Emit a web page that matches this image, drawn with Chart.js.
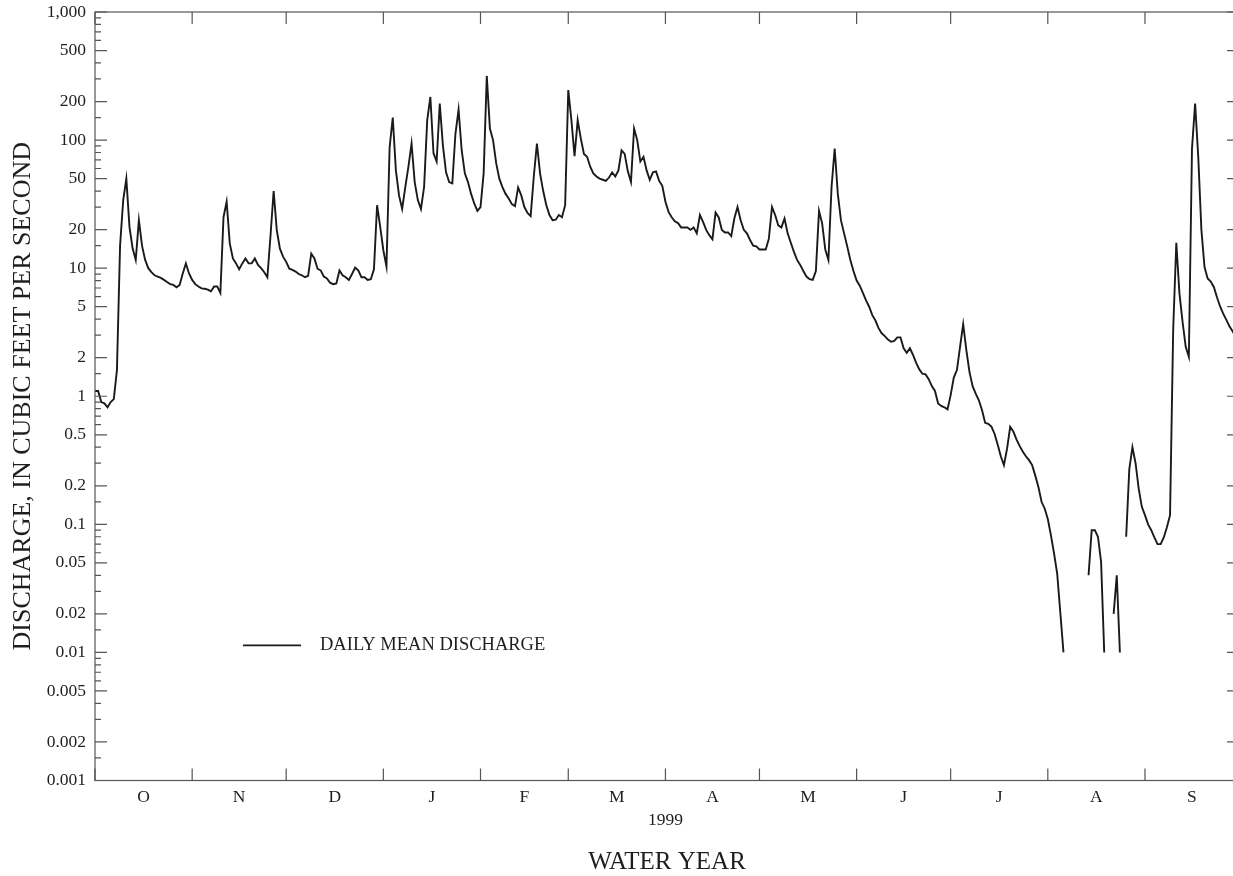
<!DOCTYPE html>
<html><head><meta charset="utf-8">
<script src="https://cdn.jsdelivr.net/npm/chart.js@4.4.1/dist/chart.umd.min.js"></script>
<style>html,body{margin:0;padding:0;overflow:hidden;background:#fff}</style>
</head><body>
<canvas id="c" width="1250" height="876" style="display:block;width:1250px;height:876px"></canvas>
<script>
// ---- data (water year 1999, daily mean discharge, cfs) ----
const monthLetters = ['O','N','D','J','F','M','A','M','J','J','A','S'];
const monthDays = [31,30,31,31,28,31,30,31,30,31,31,30];
const yearLabel = '1999';
const yearTickDay = 182; // April 1
const xTitle = 'WATER YEAR';
const yTitle = 'DISCHARGE, IN CUBIC FEET PER SECOND';
const legendLabel = 'DAILY MEAN DISCHARGE';
const yTickValues = [0.001,0.002,0.005,0.01,0.02,0.05,0.1,0.2,0.5,1,2,5,10,20,50,100,200,500,1000];
const yTickLabels = ['0.001','0.002','0.005','0.01','0.02','0.05','0.1','0.2','0.5','1','2','5','10','20','50','100','200','500','1,000'];
const yDecades = [0.001,0.01,0.1,1,10,100];
const yMinorFactors = [1.5,3,4,6,7,8,9];

const oct = [1.1,1.1,0.9,0.88,0.82,0.9,0.95,1.6,15,34,50,21,14.3,11.6,23.7,15,11.6,10,9.3,8.8,8.6,8.4,8.1,7.8,7.5,7.4,7.1,7.4,9.1,10.9,9.1];
const nov = [8.1,7.5,7.2,6.95,6.9,6.8,6.6,7.2,7.2,6.4,25,33,15.6,11.9,10.9,9.8,10.9,11.9,10.9,10.9,11.9,10.6,10,9.3,8.5,18,40,19.8,14.2,12.3];
const dec = [11.2,9.9,9.7,9.4,9.0,8.8,8.5,8.7,13.0,11.9,9.9,9.6,8.6,8.3,7.7,7.5,7.6,9.6,8.8,8.5,8.1,9.0,10.1,9.6,8.5,8.5,8.1,8.2,9.8,31,21];
const jan = [13.8,10.3,88,150,58,37,29,43,62,94,47,34,29,43,143,217,79,68,193,91,56,47,46,112,173,83,55,47,38,32,28];
const feb = [30,55,317,123,100,66,50,43,38,35,31.6,30.5,42.7,37,30,27,25.5,52,94,55,40,31,26,23.7,23.9,26,25,31];
const mar = [246,143,75,143,103,78,74,62,55,52,50,49,48,51,56,52,58,83,78,57,47,123,100,68,74,58,49,56,57,48,44];
const apr = [33,27.5,25,23.2,22.5,20.8,20.8,20.8,19.9,20.8,18.7,26,23,19.9,18.1,16.8,27.2,24.9,19.9,19,19,17.8,24.5,30,23.7,19.9,18.7,16.6,15,14.8];
const may = [14,14,14,17,30,26,21.6,20.8,24.4,18.7,15.8,13.4,11.6,10.6,9.5,8.6,8.2,8.1,9.5,28,22.4,14,11.6,43,86,38,23.7,18.7,14.8,11.6,9.5];
const jun = [8.0,7.3,6.4,5.6,5.0,4.3,3.9,3.4,3.1,2.95,2.77,2.66,2.7,2.88,2.88,2.37,2.18,2.37,2.1,1.82,1.62,1.5,1.48,1.36,1.2,1.1,0.88,0.84,0.82,0.79];
const jul = [1.02,1.4,1.6,2.43,3.66,2.3,1.55,1.2,1.05,0.93,0.78,0.62,0.61,0.58,0.51,0.42,0.34,0.29,0.39,0.576,0.53,0.46,0.41,0.37,0.34,0.317,0.29,0.24,0.196,0.15,0.133];
const aug = [0.11,0.082,0.059,0.041,0.0203,0.01,null,null,null,null,null,null,null,0.04,0.09,0.09,0.08,0.051,0.01,null,null,0.02,0.04,0.01,null,0.08,0.27,0.40,0.30,0.19,0.137];
const sep = [0.118,0.10,0.09,0.079,0.07,0.07,0.079,0.095,0.118,3.3,15.8,6.35,3.8,2.43,2.03,86,193,74,20,10.2,8.3,7.85,7.1,5.9,5.0,4.4,3.93,3.5,3.2,2.9];

// ---- derived ----
const discharge = [].concat(oct,nov,dec,jan,feb,mar,apr,may,jun,jul,aug,sep);
const points = discharge.map((v,i)=>({x:i, y:v}));
const monthStarts = [];
let acc = 0;
monthDays.forEach(n=>{ monthStarts.push(acc); acc += n; });
monthStarts.push(acc);
const monthMids = monthDays.map((n,i)=>monthStarts[i] + n/2);

const FONT = "'Liberation Serif', 'Times New Roman', serif";
const INK = '#1e1e1e';
const AXIS = '#555';
Chart.defaults.font.family = FONT;
Chart.defaults.color = INK;

function noPad(s){ s.paddingTop = 0; s.paddingBottom = 0; s.paddingLeft = 0; s.paddingRight = 0; }

const framePlugin = {
  id: 'frame',
  afterDraw(chart){
    const {ctx, chartArea:a, scales:{x, y}} = chart;
    ctx.save();
    ctx.strokeStyle = AXIS;
    ctx.lineWidth = 1.2;
    ctx.strokeRect(a.left, a.top, a.right - a.left, a.bottom - a.top);
    ctx.beginPath();
    yTickValues.forEach(v=>{
      const py = y.getPixelForValue(v);
      ctx.moveTo(a.left, py); ctx.lineTo(a.left + 12, py);
      ctx.moveTo(a.right, py); ctx.lineTo(a.right - 12, py);
    });
    yDecades.forEach(d=>{
      yMinorFactors.forEach(f=>{
        const py = y.getPixelForValue(d*f);
        ctx.moveTo(a.left, py); ctx.lineTo(a.left + 6, py);
        ctx.moveTo(a.right, py); ctx.lineTo(a.right - 6, py);
      });
    });
    monthStarts.forEach(d=>{
      const px = x.getPixelForValue(d);
      ctx.moveTo(px, a.bottom); ctx.lineTo(px, a.bottom - 12);
      ctx.moveTo(px, a.top); ctx.lineTo(px, a.top + 12);
    });
    ctx.stroke();
    // legend
    const ly = y.getPixelForValue(0.01) - 7;
    ctx.strokeStyle = '#1a1a1a';
    ctx.lineWidth = 1.8;
    ctx.beginPath();
    ctx.moveTo(243, ly); ctx.lineTo(301, ly);
    ctx.stroke();
    ctx.fillStyle = INK;
    ctx.font = '18.5px ' + FONT;
    ctx.textBaseline = 'middle';
    ctx.textAlign = 'left';
    ctx.fillText(legendLabel, 320, ly);
    ctx.restore();
  }
};

new Chart(document.getElementById('c'), {
  type: 'line',
  data: { datasets: [{
    label: legendLabel,
    data: points,
    xAxisID: 'x', yAxisID: 'y',
    borderColor: '#1a1a1a', borderWidth: 1.9,
    pointRadius: 0, tension: 0, spanGaps: false, fill: false
  }]},
  options: {
    responsive: false, animation: false,
    devicePixelRatio: 1,
    layout: { padding: { left: 0, top: 12, right: 11, bottom: 0 } },
    plugins: { legend: { display: false }, tooltip: { enabled: false } },
    scales: {
      x: {
        type: 'linear', position: 'bottom', min: 0, max: 365, weight: 0,
        grid: { display: false, drawTicks: false }, border: { display: false },
        afterBuildTicks: s => { s.ticks = monthMids.map(v=>({value:v})); },
        afterFit: s => { s.height = 24; noPad(s); },
        ticks: { autoSkip: false, maxRotation: 0, padding: 6.5,
          font: { size: 17.5 }, color: INK,
          callback: (v, i) => monthLetters[i] }
      },
      x2: {
        type: 'linear', position: 'bottom', min: 0, max: 365, weight: 1,
        grid: { display: false, drawTicks: false }, border: { display: false },
        afterBuildTicks: s => { s.ticks = [{value: yearTickDay}]; },
        afterFit: s => { s.height = 71.5; noPad(s); },
        ticks: { autoSkip: false, maxRotation: 0, padding: 5.7,
          font: { size: 17.5 }, color: INK,
          callback: () => yearLabel },
        title: { display: true, text: xTitle, color: INK,
          font: { size: 25, lineHeight: 1.1 }, padding: { top: 0, bottom: 0 } }
      },
      y: {
        type: 'logarithmic', position: 'left', min: 0.001, max: 1000,
        grid: { display: false, drawTicks: false }, border: { display: false },
        afterBuildTicks: s => { s.ticks = yTickValues.map(v=>({value:v})); },
        afterFit: s => { s.width = 95; noPad(s); },
        ticks: { autoSkip: false, padding: 9, font: { size: 17.5 }, color: INK,
          callback: (v, i) => yTickLabels[i] },
        title: { display: true, text: yTitle, color: INK,
          font: { size: 26, lineHeight: 1.2 }, padding: { top: 8, bottom: 0 } }
      }
    }
  },
  plugins: [framePlugin]
});
</script>
</body></html>
